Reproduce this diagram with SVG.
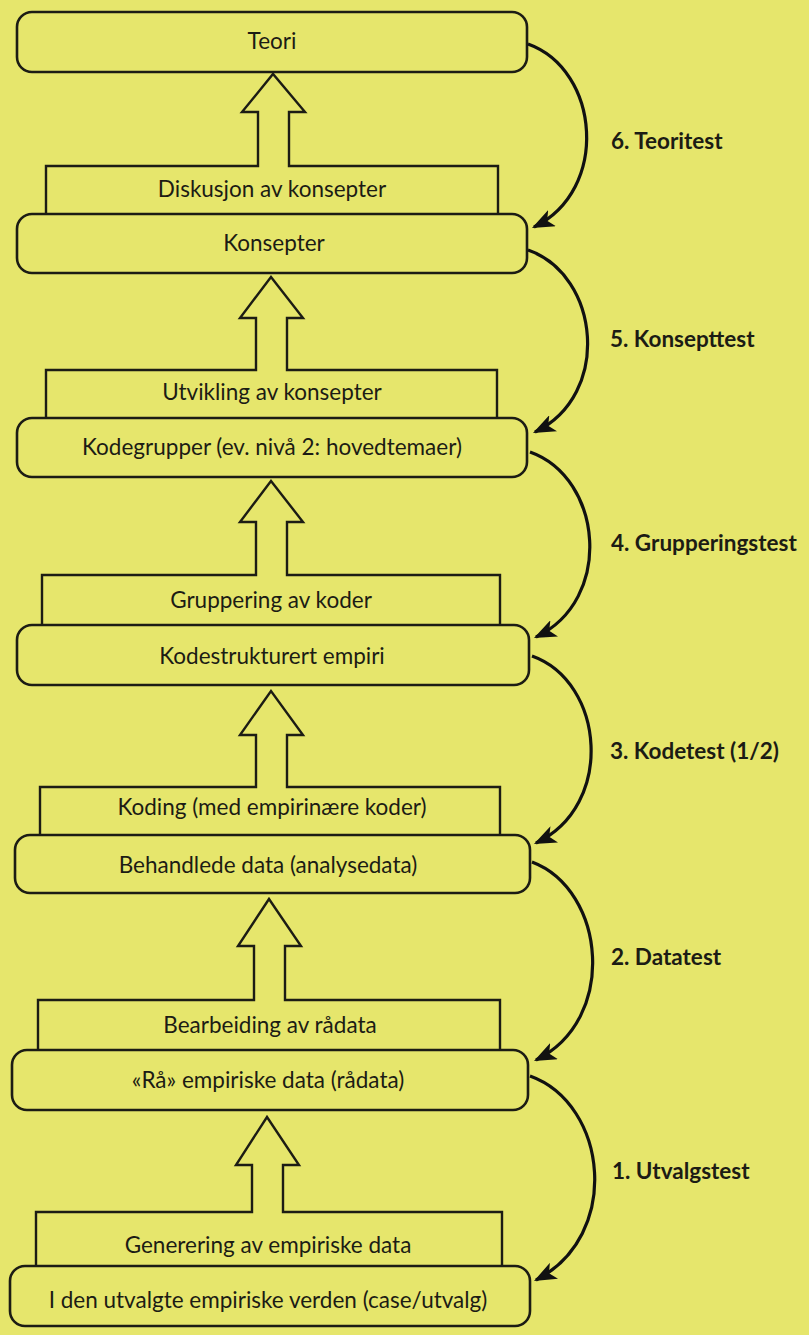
<svg xmlns="http://www.w3.org/2000/svg" width="809" height="1335" viewBox="0 0 809 1335">
<defs>
<style>
.bg{fill:#e6e66c}
.box{fill:#e6e66c;stroke:#1c1c14;stroke-width:2.6}
.proc{fill:#e6e66c;stroke:#1c1c14;stroke-width:2.4;stroke-linejoin:miter}
.t{font-family:Lato,"Open Sans",sans-serif;font-size:22.5px;fill:#1c1c14;text-anchor:middle}
.lbl{font-family:Lato,"Open Sans",sans-serif;font-size:22.5px;font-weight:bold;fill:#1c1c14}
.cur{fill:none;stroke:#111;stroke-width:3.2;marker-end:url(#ah)}
</style>
<marker id="ah" viewBox="0 0 20 16" refX="18" refY="8" markerWidth="7" markerHeight="5.6" orient="auto" markerUnits="strokeWidth">
<path d="M0,0 L20,8 L0,16 L5,8 Z" fill="#111"/>
</marker>
</defs>
<rect class="bg" x="0" y="0" width="809" height="1335"/>

<g id="proc1"><path class="proc" d="M46,216 V166 H258 V112 H242 L273,74 L305,112 H289 V166 H498 V216"/><text class="t" x="272" y="197">Diskusjon av konsepter</text></g>
<g id="proc2"><path class="proc" d="M46,420 V370 H256 V318 H240 L271,277 L303,318 H287 V370 H497 V420"/><text class="t" x="272" y="400">Utvikling av konsepter</text></g>
<g id="proc3"><path class="proc" d="M42,627 V575 H256 V522 H240 L271,481 L303,522 H287 V575 H500 V627"/><text class="t" x="271" y="608">Gruppering av koder</text></g>
<g id="proc4"><path class="proc" d="M40,837 V787 H256 V735 H240 L271,691 L303,735 H287 V787 H500 V837"/><text class="t" x="272" y="815">Koding (med empirinære koder)</text></g>
<g id="proc5"><path class="proc" d="M38,1052 V1000 H254 V946 H238 L269,899 L301,946 H285 V1000 H500 V1052"/><text class="t" x="270" y="1033">Bearbeiding av rådata</text></g>
<g id="proc6"><path class="proc" d="M36,1267 V1212 H252 V1165 H236 L267,1117 L299,1165 H283 V1212 H502 V1267"/><text class="t" x="268" y="1253">Generering av empiriske data</text></g>

<g id="box1"><rect class="box" x="17" y="12" width="510" height="60" rx="15"/><text class="t" x="272" y="49">Teori</text></g>
<g id="box2"><rect class="box" x="17" y="214" width="510" height="59" rx="15"/><text class="t" x="274" y="251">Konsepter</text></g>
<g id="box3"><rect class="box" x="17" y="418" width="510" height="59" rx="15"/><text class="t" x="272" y="455">Kodegrupper (ev. nivå 2: hovedtemaer)</text></g>
<g id="box4"><rect class="box" x="17" y="625" width="512" height="60" rx="15"/><text class="t" x="272" y="664">Kodestrukturert empiri</text></g>
<g id="box5"><rect class="box" x="15" y="835" width="515" height="58" rx="15"/><text class="t" x="268" y="873">Behandlede data (analysedata)</text></g>
<g id="box6"><rect class="box" x="12" y="1050" width="516" height="60" rx="15"/><text class="t" x="268" y="1088">«Rå» empiriske data (rådata)</text></g>
<g id="box7"><rect class="box" x="10" y="1266" width="520" height="60" rx="15"/><text class="t" x="268" y="1308">I den utvalgte empiriske verden (case/utvalg)</text></g>

<g id="connectors">
<path class="cur" d="M528,44 C600,70 610,190 534,227"/>
<path class="cur" d="M528,250 C600,275 612,395 535,432"/>
<path class="cur" d="M530,452 C603,478 614,600 536,637"/>
<path class="cur" d="M532,656 C605,682 615,806 536,843"/>
<path class="cur" d="M532,862 C606,890 618,1020 536,1060"/>
<path class="cur" d="M530,1076 C608,1104 622,1236 536,1280"/>
</g>

<g id="labels">
<text class="lbl" x="611" y="149">6. Teoritest</text>
<text class="lbl" x="610" y="347">5. Konsepttest</text>
<text class="lbl" x="611" y="551">4. Grupperingstest</text>
<text class="lbl" x="610" y="759">3. Kodetest (1/2)</text>
<text class="lbl" x="611" y="965">2. Datatest</text>
<text class="lbl" x="612" y="1179">1. Utvalgstest</text>
</g>
</svg>
